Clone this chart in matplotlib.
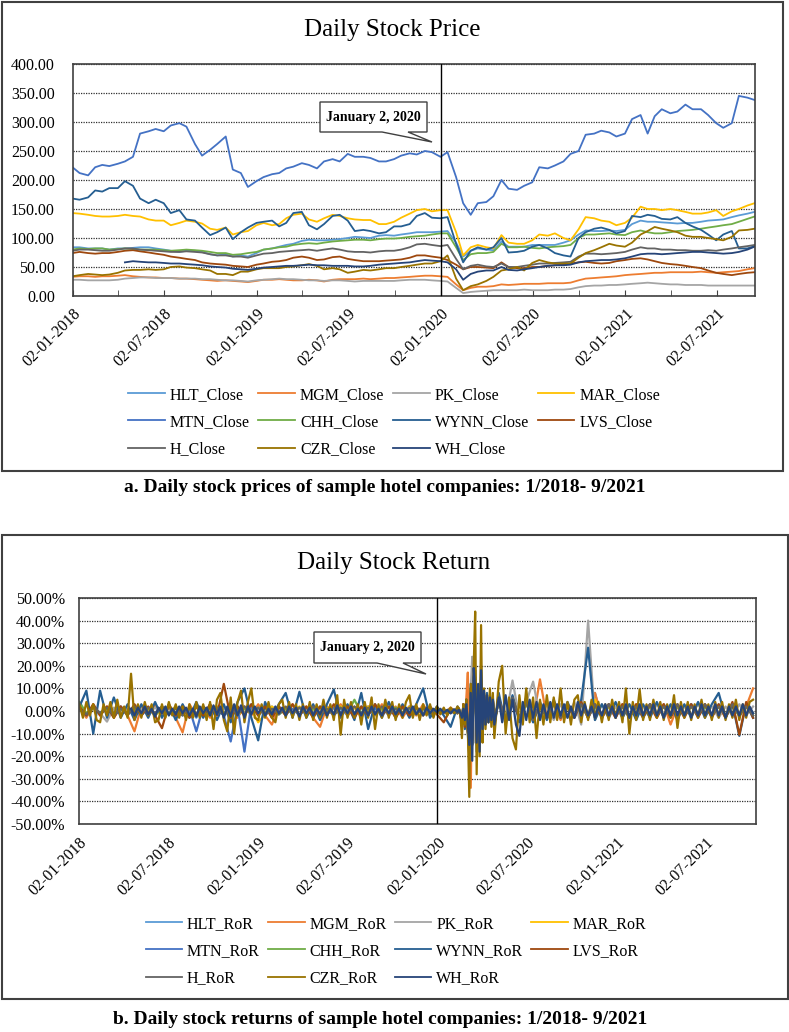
import numpy as np
import pandas as pd
import matplotlib
matplotlib.use("Agg")
import matplotlib.pyplot as plt
import matplotlib.dates as mdates
from matplotlib.patches import Rectangle, Polygon

plt.rcParams["font.family"] = ["Liberation Serif", "DejaVu Serif"]

nan = np.nan

# ---------------- daily prices (read twice a month) ----------------
price_dates = pd.date_range("2018-01-01", "2021-09-16", freq="SMS")

mtn_close = [222, 212, 208, 222, 226, 224, 228, 232, 240, 280,
             284, 288, 284, 294, 298, 292, 262, 242, 252, 262,
             275, 218, 212, 188, 198, 205, 210, 212, 220, 223,
             229, 226, 220, 232, 236, 232, 245, 240, 240, 238,
             232, 232, 236, 242, 246, 244, 250, 248, 240, 248,
             205, 160, 140, 160, 162, 172, 200, 185, 183, 190,
             196, 222, 220, 225, 232, 245, 250, 278, 280, 285,
             282, 275, 280, 305, 312, 280, 310, 322, 315, 318,
             330, 322, 322, 312, 298, 290, 298, 345, 342, 338]
wynn_close = [168, 166, 170, 182, 180, 186, 186, 198, 190, 168,
              160, 166, 160, 143, 148, 132, 130, 118, 105, 110,
              118, 98, 110, 118, 126, 128, 130, 120, 126, 143,
              145, 122, 115, 124, 138, 140, 130, 112, 114, 112,
              108, 110, 120, 120, 124, 138, 143, 135, 134, 136,
              90, 58, 78, 84, 80, 84, 100, 75, 76, 78,
              85, 88, 82, 74, 70, 68, 100, 110, 116, 118,
              114, 108, 112, 138, 136, 140, 138, 133, 132, 136,
              126, 120, 114, 106, 96, 106, 112, 82, 82, 86]
mar_close = [143, 142, 140, 138, 137, 137, 138, 140, 138, 137,
             132, 130, 130, 122, 126, 130, 128, 125, 116, 114,
             118, 106, 110, 112, 122, 126, 122, 124, 134, 140,
             142, 132, 128, 134, 140, 138, 134, 132, 131, 131,
             124, 124, 128, 135, 142, 148, 150, 146, 148, 148,
             110, 70, 84, 88, 84, 82, 105, 92, 90, 90,
             96, 106, 104, 108, 100, 96, 115, 136, 134, 130,
             128, 122, 126, 135, 154, 150, 150, 148, 150, 148,
             145, 142, 142, 144, 148, 138, 146, 150, 156, 160]
hlt_close = [84, 84, 82, 82, 82, 80, 82, 82, 83, 84,
             84, 82, 80, 78, 76, 78, 78, 76, 72, 70,
             72, 68, 70, 68, 74, 80, 82, 85, 88, 90,
             95, 97, 96, 96, 97, 98, 100, 102, 101, 100,
             104, 105, 104, 106, 108, 110, 110, 110, 111, 112,
             92, 68, 78, 82, 80, 79, 94, 85, 85, 85,
             88, 88, 88, 88, 92, 96, 106, 113, 112, 112,
             113, 112, 114, 124, 130, 128, 128, 127, 126, 125,
             126, 126, 128, 130, 131, 132, 136, 139, 142, 145]
chh_close = [80, 82, 81, 82, 82, 80, 81, 82, 81, 80,
             80, 80, 79, 78, 79, 80, 79, 78, 76, 74,
             74, 71, 72, 74, 76, 80, 82, 84, 85, 88,
             90, 91, 90, 92, 94, 95, 96, 97, 97, 96,
             98, 99, 99, 100, 102, 103, 104, 106, 108, 108,
             84, 62, 72, 74, 74, 76, 90, 84, 84, 85,
             83, 82, 84, 85, 86, 88, 100, 106, 106, 107,
             108, 106, 105, 110, 113, 110, 108, 108, 110, 112,
             113, 114, 116, 118, 120, 122, 124, 128, 133, 137]
h_close = [78, 80, 80, 79, 78, 78, 80, 82, 82, 80,
           79, 78, 77, 76, 76, 77, 76, 75, 72, 70,
           70, 68, 68, 66, 70, 73, 74, 76, 77, 78,
           79, 80, 78, 80, 82, 80, 77, 76, 76, 75,
           77, 78, 78, 80, 84, 89, 90, 88, 86, 88,
           64, 46, 52, 54, 51, 50, 56, 50, 50, 52,
           54, 56, 56, 57, 58, 59, 68, 73, 73, 72,
           73, 74, 76, 80, 84, 82, 82, 80, 80, 79,
           79, 78, 78, 79, 78, 80, 82, 84, 86, 88]
lvs_close = [74, 76, 74, 73, 74, 74, 76, 78, 79, 77,
             75, 73, 71, 68, 66, 64, 62, 58, 56, 55,
             54, 52, 51, 50, 54, 56, 59, 60, 62, 66,
             68, 66, 62, 63, 67, 68, 64, 62, 60, 60,
             60, 61, 62, 63, 66, 70, 70, 68, 66, 62,
             54, 46, 50, 50, 49, 48, 58, 50, 48, 48,
             50, 50, 52, 53, 54, 56, 58, 59, 57, 56,
             57, 60, 62, 64, 65, 63, 60, 57, 55, 54,
             52, 50, 48, 44, 40, 38, 36, 38, 40, 41]
wh_close = [nan, nan, nan, nan, nan, nan, nan, 58, 60, 59,
            58, 58, 57, 56, 56, 55, 54, 53, 51, 50,
            49, 47, 46, 45, 47, 49, 50, 51, 52, 52,
            53, 54, 53, 53, 52, 52, 52, 51, 51, 52,
            54, 55, 56, 57, 58, 60, 62, 61, 60, 58,
            46, 28, 38, 42, 44, 44, 50, 45, 44, 46,
            48, 50, 52, 53, 53, 54, 58, 60, 61, 62,
            62, 63, 65, 68, 72, 73, 73, 72, 73, 74,
            75, 76, 76, 75, 74, 73, 74, 76, 80, 85]
czr_close = [34, 36, 38, 37, 36, 37, 40, 44, 45, 45,
             46, 45, 46, 50, 51, 49, 48, 46, 44, 38,
             38, 36, 42, 42, 46, 48, 48, 48, 50, 51,
             53, 55, 52, 46, 48, 46, 40, 42, 45, 44,
             46, 48, 48, 50, 52, 54, 56, 56, 60, 70,
             30, 10, 17, 20, 26, 33, 44, 46, 50, 44,
             57, 62, 58, 56, 56, 56, 66, 74, 79, 84,
             90, 87, 85, 92, 106, 112, 119, 116, 113, 110,
             104, 102, 102, 100, 98, 96, 102, 113, 114, 116]
mgm_close = [33, 34, 34, 33, 34, 34, 35, 36, 34, 33,
             32, 32, 31, 31, 30, 30, 29, 28, 27, 26,
             27, 26, 25, 24, 26, 28, 28, 29, 28, 27,
             27, 28, 27, 25, 28, 29, 29, 29, 30, 29,
             30, 31, 31, 32, 33, 34, 35, 35, 34, 33,
             20, 10, 14, 16, 16, 17, 20, 19, 20, 21,
             21, 21, 22, 22, 22, 23, 27, 30, 31, 32,
             33, 34, 36, 37, 38, 39, 40, 40, 41, 41,
             41, 41, 42, 41, 40, 41, 42, 43, 46, 48]
pk_close = [28, 28, 27, 27, 27, 27, 28, 30, 31, 32,
            32, 31, 31, 31, 30, 30, 30, 29, 29, 28,
            27, 27, 26, 25, 27, 28, 29, 30, 29, 29,
            28, 27, 27, 26, 27, 27, 26, 25, 26, 26,
            26, 26, 26, 27, 28, 28, 28, 27, 26, 25,
            14, 5, 7, 8, 9, 10, 10, 10, 10, 11,
            10, 10, 10, 11, 11, 12, 15, 17, 18, 18,
            19, 19, 20, 21, 22, 23, 22, 21, 20, 20,
            19, 19, 19, 18, 18, 18, 18, 18, 18, 18]

# ---------------- daily returns in % ----------------
# weekly readings, every 3 days during the March 2020 crash
ret_dates_full = (list(pd.date_range("2018-01-03", "2020-02-12", freq="7D"))
                  + list(pd.date_range("2020-02-15", "2020-04-27", freq="3D"))
                  + list(pd.date_range("2020-05-06", "2021-10-06", freq="7D")))
# every second week for the series that mostly hide behind the others
ret_dates_half = (list(pd.date_range("2018-01-03", "2020-02-12", freq="14D"))
                  + list(pd.date_range("2020-02-15", "2020-04-27", freq="3D"))
                  + list(pd.date_range("2020-05-06", "2021-10-06", freq="14D")))

hlt_ror = [1, -2, 2, -1, 1.5, -2, 1, -1.5, 2, -1,
           1, -2, 1.5, -1, 2, -1.5, 1, -3, 2, -1,
           1.5, -2, 3, -2.5, 2, -1, 1.5, -1, 2, -1.5,
           1, -1, 1.5, -2, 1, -1, 2, -1.5, 1, -2,
           1.5, -1, 2, -1, 1.5, -2, 1, -1.5, 2, -1,
           1, -1.5, 1, -1, 0.5, -1,
           0.5, -1, -4, 2, -6, 5, -8, -15, 9, -14,
           12, 15, -13, 8, -10, 14, -6, 7, -5, 6,
           -4, 5, -3, 4, -5,
           5, -4, 6, -3, 4, -5, 3, -3, 4, -2,
           3, -3, 2, -2, 8, -3, 2, -2, 3, -2,
           2, -3, 2, -2, 3, -2, 2, -2, 3, -2,
           2, -2, 3, -2, 2, -2, 3, -2]
mgm_ror = [2, -3, 3, -2, 2, -3, 2, -2, -9, 2,
           -2, 3, -2, 2, -3, -9.5, 3, -2, 2, -3,
           2, -2, 3, -3, 2, -2, 3, -2, -6, 2,
           -2, 3, -2, 2, -3, -7, 2, -2, 3, -2,
           2, -3, 2, -2, 3, -2, 2, -3, 2, -2,
           3, -2, 1, -1, 1.5, -1,
           1, -2, -5, 3, -7, 6, 17, -10, -34, 12,
           -10, 14, -12, 9, -11, 13, -7, 8, -6, 7,
           -5, 6, -4, 5, -6,
           6, -4, 5, -3, 4, -4, 14, -3, 3, -4,
           3, -2, 3, -3, 8, -3, 2, -3, 3, -2,
           3, -2, 2, -3, 3, -6, 2, -2, 3, -2,
           3, -2, 2, -3, 3, -2, 2, 10]
pk_ror = [1, -1.5, 1, -1, -4.7, 1.5, -1, 1, -1.5, 1,
          -1, 1.5, -1, 1, -1.5, 1, -1, 1.5, -1, 1,
          -1.5, 1, -1, 1.5, -1, 1, -1.5, 1, -1, 1.5,
          -1, 1, -1.5, 1, -1, 1, -1.5, 1, -1, 1.5,
          -1, 1, -1.5, 1, -1, 1.5, -1, 1, -1.5, 1,
          -1, 1, -1, 0.5, -1, 0.5,
          0.5, -1, -3, 2, -5, 4, -8, -12, 10, 24,
          -14, 12, -15, 9, -10, 12, -6, 7, -5, 6,
          -4, 5, -4, 5, -5,
          4, -3, 13.5, -3, 4, 13, -3, 3, -4, 3,
          -3, 4, -6, 40, -4, 3, -3, 2, -3, 3,
          -2, 2, -3, 3, -2, 2, -3, 2, -2, 3,
          -2, 2, -3, 2, -2, 3, -2, 2]
mar_ror = [1.5, -1, 2, -1.5, 1, -2, 1.5, -1, 2, -1,
           1.5, -2, 1, -1.5, 2, -1, 1, -2, 1.5, -1,
           2, -1.5, 1, -2, 1.5, 1, -5, -1.5, 2, -1,
           1.5, -1, 2, -1.5, 1, -2, 1.5, -1, 2, -1,
           1.5, -1, 2, -1.5, 1, -1, 1.5, -1, 2, -1.5,
           1, -1, 1, -0.5, 1, -1,
           0.5, -1.5, -4, 3, -6, 5, -9, -17, 10, -13,
           12, 15, -14, 9, -11, 13, -7, 8, -5, 6,
           -4, 5, -4, 5, -5,
           5, -4, 6, -3, 4, -4, 3, -3, 4, -3,
           3, -2, 3, -3, 5, -2, 3, -2, 2, -3,
           2, -2, 3, -2, 2, -2, 3, -2, 2, -2,
           3, -2, 2, -2, 3, -2, 2, -2]
mtn_ror = [1, -2, 2, -1, 1.5, -1, 2, -1.5, 1, -2,
           1.5, -1, 2, -1, 1.5, -2, 1, -9, 2, -1,
           1.5, -2, -13.5, 2, -18, 3, -2, 1.5, -1, 2,
           -1.5, 1, -2, 1.5, -1, 2, -1, 1.5, -2, 1,
           -1.5, 2, -1, 1, -1.5, 2, -1, 1.5, -1, 1,
           -1.5, 1, -1, 0.5, -1, 1,
           0.5, -1, -3, 2, -5, 4, -7, -12, 8, -10,
           9, 11, -10, 7, -9, 10, -5, 6, -4, 5,
           -3, 4, -3, 4, -4,
           4, -3, 5, -3, 3, -3, 2, -2, 3, -2,
           2, -2, 3, -2, 2, -2, 3, -2, 2, -2,
           2, -2, 3, -2, 2, -2, 2, -2, 3, -2,
           2, -2, 2, -2, 3, -2, 2, -1]
chh_ror = [4, -1, 1.5, -1, 1, -1.5, 1, -1, 1.5, -1,
           1, -1.5, 1, -1, 1.5, -1, 1, -1.5, 1, -1,
           1.5, -1, 1, -1.5, 1, -1, 1.5, -1, 1, -1.5,
           1, -1, 1.5, -1, 1, -1.5, 1, -1, 1.5, -1,
           5, -1, 1, -1.5, 1, -1, 1.5, -1, 1, -1,
           1, -1, 1, -0.5, 0.5, -1,
           0.5, -1, -3, 2, -5, 4, -7, -13, 9, -11,
           10, 12, -11, 7, -9, 11, -5, 6, -4, 5,
           -3, 4, -3, 4, -4,
           4, -3, 5, -3, 3, -3, 2, -2, 3, -2,
           2, -2, 3, -2, 2, -2, 2, -2, 2, -2,
           2, -2, 2, -2, 2, -2, 2, -2, 2, -2,
           2, -2, 2, -2, 2, -2, 2, -1]
wynn_ror = [2, 9, -10, 9, -3, 6, -3, 3, -4, 3,
            -3, 4, -3, 3, -4, 3, -3, 4, -3, 3,
            -4, 3, -5, 4, 10, -3, -13, 4, -3, 3,
            8, -3, 8.5, -3, 3, -4, 3, 9.5, -3, 3,
            -4, 8, -8, 3, -3, 4, -3, 3, -3, 3,
            10, -3, 2, -2, -7, 2,
            1, -2, -6, 3, -8, 5, -10, -20, 12, -15,
            15, 18, -18, 10, -12, 20, -8, 8, -6, 8,
            -5, 7, -5, 6, -8,
            8, -6, 7, -5, 6, -5, 4, -4, 5, -3,
            4, -3, 5, 28, -4, 3, -3, 4, -3, 3,
            -4, 3, -3, 4, -3, 3, -4, 3, -3, 4,
            -3, 3, 8, -3, 3, -11, 3, -3]
lvs_ror = [2, -2, 3, -2, 2, -3, 2, -2, 3, -2,
           2, -2, -7.6, 3, -2, 2, -3, 2, -2, 3,
           -2, 12, -3, 2, -2, 3, -2, 2, -3, 2,
           -2, 3, -2, 2, -3, 2, -2, 3, -2, 2,
           -3, 2, -2, 3, -2, 2, -3, 2, -2, 2,
           -2, 2, -1.5, -5, 1, -1,
           1, -2, -5, 3, -7, 5, -9, -14, 10, -12,
           11, 13, -12, 8, -10, 12, -6, 7, -5, 6,
           -4, 5, -4, 5, -5,
           5, -4, 5, -3, 4, -4, 3, -3, 4, -3,
           3, -3, 4, -3, 3, -3, 3, -3, 3, -3,
           3, -3, 3, -3, 3, -3, 3, -3, 3, -3,
           3, -3, 3, -3, 4, -10.5, 4, -3]
h_ror = [1, -1.5, 2, -1, 1.5, -2, 1, -1.5, 2, -1,
         1.5, -1, 2, -1.5, 1, -2, 1.5, -1, 2, -1,
         1.5, -2, 1, -1.5, 2, -1, 1.5, -2, 1, -1.5,
         2, -1, 1.5, -1, 2, -1.5, 1, -2, 1.5, -1,
         2, -1, 1.5, -1, 2, -1.5, 1, -1, 1.5, -1,
         1, -1, 1, -0.5, 1, -1,
         0.5, -1, -4, 2, -6, 5, -9, -16, 10, -13,
         12, 14, -13, 8, -10, 13, -6, 7, -5, 6,
         -4, 5, -4, 5, -5,
         5, -4, 6, -3, 4, -4, 3, -3, 4, -3,
         3, -2, 3, -3, 3, -2, 3, -2, 2, -3,
         2, -2, 3, -2, 2, -2, 3, -2, 2, -2,
         3, -2, 2, -2, 3, -2, 2, -2]
czr_ror = [3, -3, 4, -2, 3, -4, -5, 3, -2, 4,
           -3, 5, -3, 2, -3, 16.5, -4, 3, -3, 4,
           -2, 3, -5, -4, 3, -3, 4, -2, 3, -3,
           2, -4, 3, -3, 4, -3, 3, -4, 4, -8,
           5, 8, -4, -9, 6, -10, 4, 9, -5, 4,
           10, -3, -4, 3, -3, 4, -3, -5, 3, 5,
           -3, 4, -3, 3, -4, 3, -3, 4, -4, 3,
           -3, 5, -3, 3, -4, 7, -10.5, 5, -3, 4,
           -3, 3, -6, 4, -3, 6, -8, 3, -3, 5,
           -3, 4, -4, 3, -3, 4, 7, -3, 3, -4,
           3, -2, 3, -3, 2, -1.5, 1.5, -2, 1.5, -1,
           2,
           1, -2, -12, 3, -6, 5, -8, -38, 12, -15,
           20, 44, -28, 10, -20, 38, -14, 10, -8, 6,
           -5, 10, -7, 8, -12,
           13, 20, -10, 6, -12, -17, 7, -6, 10, -5,
           6, -12, 5, -6, 7, -5, 6, -4, 10, -5,
           4, -6, 5, 7, -5, 4, -4, 5, -3, 4,
           -5, 3, -4, 5, -3, 4, -5, 10, -10, 4,
           -4, 9.5, -4, 3, -4, 5, -3, 4, -4, 3,
           -3, 7, -7.5, 4, -3, 4, -4, 3, -3, 5,
           -3, 3, -4, 4, -3, 4, -4, 3, -3, 5,
           -4, 3, -3, 4, 5]
wh_ror = [nan, nan, nan, nan, nan, nan, nan, nan, nan, nan,
          nan, nan, nan, nan, nan, 1, -2, 1.5, -1, 2,
          -1.5, 1, -2.5, 1.5, -1, 2, -2, 1, -1.5, 2,
          -1, 1.5, -2, 1, -2.5, 2, -1, 1.5, -2, 2.5,
          -1.5, 2, -3, 2, -2.5, 3, -2, 2.5, -3, 2,
          -1.5, 2, -1, 1.5, -2, 1, -1.5, 2, -1, 1.5,
          -2, 2, -1, 1.5, -2.5, 2, -1, 1.5, -2, 1,
          -1.5, 2, -2, 1, -1.5, 2.5, -2, 1.5, -1, 2,
          -1.5, 1, -2, 1.5, -2, 2, -1.5, 1, -2, 1.5,
          -1, 2, -1.5, 1, -2, 1.5, -1, 2, -1.5, 1,
          -2, 1.5, -1, 1, -0.5, 1, -0.8, 0.5, -1, 0.8,
          -0.5,
          0.5, -1, -3, 1, -4, 3, -6, -15, 8, -22,
          19, 10, -14, 12, -18, 18, -8, 9, -6, 7,
          -5, 6, -4, 5, -6,
          6, -5, 7, -4, 5, -6, -11, 4, -4, 5,
          -3, 4, -4, 3, -3, 4, -3, 3, -2, 3,
          -3, 2, -3, 4, -2, 3, -2, 2, -3, 2,
          -2, 3, -2, 2, -3, 2, -2, 3, -3, 2,
          -2, 3, -2, 2, -2, 3, -2, 2, -3, 2,
          -2, 3, -2, 2, -2, 2, -3, 2, -2, 3,
          -2, 2, -2, 3, -2, 2, -3, 2, -2, 2,
          -2, 3, -2, 2, -1]

tickers = ["HLT", "MGM", "PK", "MAR", "MTN", "CHH", "WYNN", "LVS", "H", "CZR", "WH"]
colors = ["#5B9BD5", "#ED7D31", "#A5A5A5", "#FFC000", "#4472C4", "#70AD47",
          "#255E91", "#9E480E", "#636363", "#997300", "#264478"]
closes = [hlt_close, mgm_close, pk_close, mar_close, mtn_close, chh_close,
          wynn_close, lvs_close, h_close, czr_close, wh_close]
rors = [hlt_ror, mgm_ror, pk_ror, mar_ror, mtn_ror, chh_ror,
        wynn_ror, lvs_ror, h_ror, czr_ror, wh_ror]

# legend filled row by row like the original (matplotlib fills by column)
legend_order = [0, 4, 8, 1, 5, 9, 2, 6, 10, 3, 7]

W, H = 789, 1032
fig = plt.figure(figsize=(W / 100, H / 100), dpi=100)


def fx(px):
    return px / W


def fy(py):
    return 1 - py / H


edge = "#404040"
grid_kw = dict(color="#303030", linestyle=(0, (1, 1)), linewidth=0.9)
jan2020 = pd.Timestamp("2020-01-02")
major = pd.to_datetime(["2018-01-02", "2018-07-02", "2019-01-02", "2019-07-02",
                        "2020-01-02", "2020-07-02", "2021-01-02", "2021-07-02"])
minor = pd.to_datetime(["2018-04-02", "2018-10-02", "2019-04-02", "2019-10-02",
                        "2020-04-02", "2020-10-02", "2021-04-02"])


def style_axes(ax):
    for s in ax.spines.values():
        s.set_color(edge)
        s.set_linewidth(1.2)
    ax.set_axisbelow(True)
    ax.yaxis.grid(True, **grid_kw)
    ax.set_xticks(major)
    ax.xaxis.set_major_formatter(mdates.DateFormatter("%d-%m-%Y"))
    plt.setp(ax.get_xticklabels(), rotation=45, ha="right", rotation_mode="anchor",
             fontsize=11.5)
    ax.axvline(jan2020, color="black", lw=1.0, zorder=3)


def callout(x0, y0, x1, y1, b0, b1, tip):
    pts = [(x0, y0), (x1, y0), (x1, y1), (b1, y1), tip, (b0, y1), (x0, y1)]
    fig.add_artist(Polygon([(fx(a), fy(b)) for a, b in pts], closed=True,
                           transform=fig.transFigure, fc="white", ec=edge, lw=1.0, zorder=5))
    fig.text(fx((x0 + x1) / 2), fy((y0 + y1) / 2), "January 2, 2020", ha="center",
             va="center", fontsize=10, fontweight="bold", zorder=6)


# ---------------- panel a ----------------
fig.add_artist(Rectangle((fx(2), fy(471)), 781 / W, 469 / H, transform=fig.transFigure,
                         fill=False, ec=edge, lw=1.5))
ax1 = fig.add_axes([fx(73), fy(296), (755 - 73) / W, (296 - 64) / H])
lines1 = []
for t, vals, c in zip(tickers, closes, colors):
    ln, = ax1.plot(price_dates, vals, color=c, lw=1.3, label=t + "_Close")
    lines1.append(ln)
ax1.set_xlim(pd.Timestamp("2018-01-02"), pd.Timestamp("2021-09-16"))
ax1.set_ylim(0, 400)
ax1.set_yticks(np.arange(0, 401, 50))
ax1.yaxis.set_major_formatter(lambda v, p: f"{v:.2f}")
style_axes(ax1)
ax1.set_xticks(minor, minor=True)
ax1.tick_params(axis="x", which="both", direction="in", length=4, color=edge, pad=7)
ax1.tick_params(axis="y", length=0, pad=13, labelsize=11.5)
fig.text(fx(392), fy(30), "Daily Stock Price", ha="center", va="center", fontsize=18)
callout(320, 102, 427, 132, 382, 408, (432, 142))
fig.legend([lines1[i] for i in legend_order], [lines1[i].get_label() for i in legend_order],
           loc="center", bbox_to_anchor=(fx(394), fy(422)), ncol=4, frameon=False,
           fontsize=11.5, handlelength=2.3, handletextpad=0.3, columnspacing=0.55,
           labelspacing=0.7)
fig.text(fx(385), fy(488), "a. Daily stock prices of sample hotel companies: 1/2018- 9/2021",
         ha="center", va="center", fontsize=14, fontweight="bold")

# ---------------- panel b ----------------
fig.add_artist(Rectangle((fx(2), fy(999)), 786 / W, 464 / H, transform=fig.transFigure,
                         fill=False, ec=edge, lw=1.5))
ax2 = fig.add_axes([fx(79), fy(824), (756 - 79) / W, (824 - 598) / H])
lines2 = []
for t, vals, c in zip(tickers, rors, colors):
    d = ret_dates_full if len(vals) == len(ret_dates_full) else ret_dates_half
    ln, = ax2.plot(d, vals, color=c, lw=1.6, label=t + "_RoR")
    lines2.append(ln)
ax2.set_xlim(pd.Timestamp("2018-01-02"), pd.Timestamp("2021-10-12"))
ax2.set_ylim(-50, 50)
ax2.set_yticks(np.arange(-50, 51, 10))
ax2.yaxis.set_major_formatter(lambda v, p: f"{v:.2f}%")
style_axes(ax2)
ax2.tick_params(axis="x", length=0, pad=8)
ax2.tick_params(axis="y", length=0, pad=10, labelsize=11.5)
fig.text(fx(394), fy(563), "Daily Stock Return", ha="center", va="center", fontsize=18)
callout(314, 632, 421, 663, 377, 403, (426, 674))
leg2 = fig.legend([lines2[i] for i in legend_order], [lines2[i].get_label() for i in legend_order],
                  loc="center", bbox_to_anchor=(fx(396), fy(951)), ncol=4, frameon=False,
                  fontsize=11.5, handlelength=2.3, handletextpad=0.3, columnspacing=0.5,
                  labelspacing=0.7)
for h in leg2.legend_handles:
    h.set_linewidth(1.3)
fig.text(fx(380), fy(1020), "b. Daily stock returns of sample hotel companies: 1/2018- 9/2021",
         ha="center", va="center", fontsize=14, fontweight="bold")

fig.savefig("out.png", dpi=100)
